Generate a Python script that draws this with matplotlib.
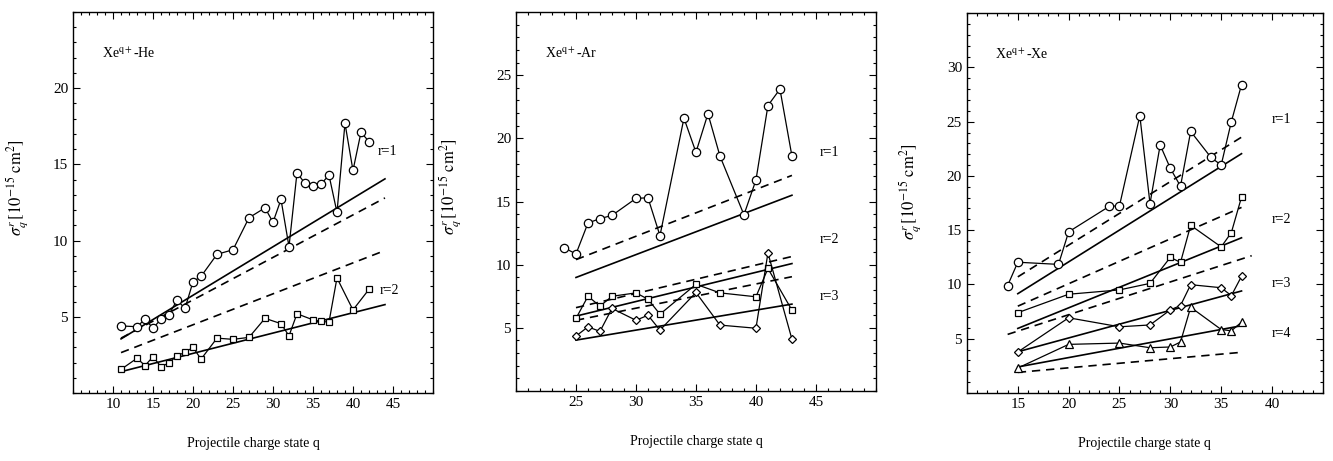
import matplotlib
matplotlib.use("Agg")
from matplotlib import pyplot as plt
from matplotlib.ticker import MultipleLocator

plt.rcParams['font.family'] = ['Liberation Serif', 'DejaVu Serif']
plt.rcParams['mathtext.fontset'] = 'stix'

# ---- Xe(q+) - He ----
he_q1 = [11, 13, 14, 15, 16, 17, 18, 19, 20, 21, 23, 25, 27, 29, 30, 31, 32, 33, 34, 35, 36, 37, 38, 39, 40, 41, 42]
he_r1 = [4.4, 4.35, 4.85, 4.25, 4.85, 5.15, 6.1, 5.55, 7.3, 7.65, 9.1, 9.4, 11.5, 12.15, 11.2, 12.7, 9.6,
         14.45, 13.75, 13.55, 13.7, 14.3, 11.85, 17.7, 14.6, 17.1, 16.5]
he_q2 = [11, 13, 14, 15, 16, 17, 18, 19, 20, 21, 23, 25, 27, 29, 31, 32, 33, 35, 36, 37, 38, 40, 42]
he_r2 = [1.55, 2.28, 1.8, 2.38, 1.72, 1.98, 2.45, 2.66, 3.0, 2.22, 3.6, 3.52, 3.65, 4.9, 4.55, 3.75,
         5.2, 4.8, 4.7, 4.65, 7.55, 5.45, 6.8]
he_fit_q = [11, 44]
he_r1_solid = [3.55, 14.05]
he_r1_dash = [3.6, 12.8]
he_r2_dash = [2.65, 9.35]
he_r2_solid = [1.4, 5.8]

# ---- Xe(q+) - Ar ----
ar_q1 = [24, 25, 26, 27, 28, 30, 31, 32, 34, 35, 36, 37, 39, 40, 41, 42, 43]
ar_r1 = [11.35, 10.85, 13.3, 13.65, 13.9, 15.25, 15.3, 12.3, 21.6, 18.9, 21.95, 18.6, 13.95, 16.7, 22.6, 23.9, 18.6]
ar_q23 = [25, 26, 27, 28, 30, 31, 32, 35, 37, 40, 41, 43]
ar_r2 = [5.75, 7.5, 6.72, 7.5, 7.77, 7.27, 6.08, 8.45, 7.77, 7.46, 9.7, 6.4]
ar_r3 = [4.35, 5.08, 4.72, 6.54, 5.6, 6.0, 4.82, 7.8, 5.22, 4.97, 10.93, 4.1]
ar_fit_q = [25, 43]
ar_r1_dash = [10.4, 17.07]
ar_r1_solid = [8.99, 15.5]
ar_r2_dash = [6.6, 10.65]
ar_r2_solid = [5.93, 10.09]
ar_r3_dash = [5.6, 9.05]
ar_r3_solid = [4.03, 6.88]

# ---- Xe(q+) - Xe ----
xe_q1 = [14, 15, 19, 20, 24, 25, 27, 28, 29, 30, 31, 32, 34, 35, 36, 37]
xe_r1 = [9.9, 12.05, 11.85, 14.85, 17.2, 17.25, 25.55, 17.45, 22.85, 20.7, 19.05, 24.1, 21.7, 21.0, 25.0, 28.4]
xe_q = [15, 20, 25, 28, 30, 31, 32, 35, 36, 37]
xe_r2 = [7.4, 9.1, 9.5, 10.1, 12.5, 12.03, 15.45, 13.46, 14.78, 18.05]
xe_r3 = [3.78, 6.93, 6.1, 6.27, 7.66, 8.06, 9.98, 9.7, 8.97, 10.75]
xe_r4 = [2.3, 4.48, 4.6, 4.17, 4.24, 4.7, 7.9, 5.85, 5.73, 6.53]
xe_fit_q = [15, 37]
xe_r1_solid = [9.15, 22.05]
xe_r1_dash_q = [15, 37.3]
xe_r1_dash = [10.7, 23.75]
xe_r2_dash = [8.0, 17.1]
xe_r2_solid = [5.95, 14.3]
xe_r3_dash_q = [14, 38]
xe_r3_dash = [5.4, 12.65]
xe_r3_solid = [3.8, 9.4]
xe_r4_solid = [2.4, 6.2]
xe_r4_dash = [1.9, 3.75]

DASH = (0, (5, 3.5))


def data_line(ax, q, v, marker, ms):
    ax.plot(q, v, color='black', lw=0.9, marker=marker, ms=ms, mfc='white', mec='black', mew=0.9, zorder=3)


def fit_line(ax, q, v, dashed=False):
    ax.plot(q, v, color='black', lw=1.2, ls=DASH if dashed else '-', zorder=2)


def style_axes(ax, xlim, ylim, xticks, yticks, title):
    ax.set_xlim(*xlim)
    ax.set_ylim(*ylim)
    ax.set_xticks(xticks)
    ax.set_yticks(yticks)
    ax.xaxis.set_minor_locator(MultipleLocator(1))
    ax.yaxis.set_minor_locator(MultipleLocator(1))
    ax.tick_params(which='both', direction='in', top=True, right=True, labelsize=11, width=0.8)
    ax.tick_params(which='major', length=5)
    ax.tick_params(which='minor', length=2.5)
    for s in ax.spines.values():
        s.set_linewidth(1.0)
    ax.set_xlabel('Projectile charge state q', fontsize=10)
    ax.xaxis.set_label_coords(0.5, -0.115)
    ax.set_ylabel(r'$\sigma_q^r\,[10^{-15}\ \mathrm{cm}^2]$', fontsize=12)
    ax.text(0.08, 0.89, title, transform=ax.transAxes, fontsize=10, va='center')


fig = plt.figure(figsize=(13.33, 4.61), dpi=100)

# Panel 1: He target
ax1 = fig.add_axes([0.0548, 0.1475, 0.27, 0.8265])
fit_line(ax1, he_fit_q, he_r1_solid)
fit_line(ax1, he_fit_q, he_r1_dash, dashed=True)
fit_line(ax1, he_fit_q, he_r2_dash, dashed=True)
fit_line(ax1, he_fit_q, he_r2_solid)
data_line(ax1, he_q1, he_r1, 'o', 6)
data_line(ax1, he_q2, he_r2, 's', 5)
ax1.text(43.1, 15.85, 'r=1', fontsize=10, va='center')
ax1.text(43.4, 6.7, 'r=2', fontsize=10, va='center')
style_axes(ax1, (5, 50), (0, 25), range(10, 46, 5), range(5, 21, 5), r'Xe$^{\mathrm{q+}}$-He')
ax1.yaxis.set_label_coords(-0.12, 0.54)

# Panel 2: Ar target
ax2 = fig.add_axes([0.3871, 0.1518, 0.27, 0.822])
fit_line(ax2, ar_fit_q, ar_r1_dash, dashed=True)
fit_line(ax2, ar_fit_q, ar_r1_solid)
fit_line(ax2, ar_fit_q, ar_r2_dash, dashed=True)
fit_line(ax2, ar_fit_q, ar_r2_solid)
fit_line(ax2, ar_fit_q, ar_r3_dash, dashed=True)
fit_line(ax2, ar_fit_q, ar_r3_solid)
data_line(ax2, ar_q1, ar_r1, 'o', 6)
data_line(ax2, ar_q23, ar_r2, 's', 5)
data_line(ax2, ar_q23, ar_r3, 'D', 4.5)
ax2.text(45.3, 18.9, 'r=1', fontsize=10, va='center')
ax2.text(45.3, 12.0, 'r=2', fontsize=10, va='center')
ax2.text(45.3, 7.45, 'r=3', fontsize=10, va='center')
style_axes(ax2, (20, 50), (0, 30), range(25, 46, 5), range(5, 26, 5), r'Xe$^{\mathrm{q+}}$-Ar')
ax2.yaxis.set_label_coords(-0.147, 0.54)

# Panel 3: Xe target
ax3 = fig.add_axes([0.7254, 0.1475, 0.267, 0.824])
fit_line(ax3, xe_fit_q, xe_r1_solid)
fit_line(ax3, xe_r1_dash_q, xe_r1_dash, dashed=True)
fit_line(ax3, xe_fit_q, xe_r2_dash, dashed=True)
fit_line(ax3, xe_fit_q, xe_r2_solid)
fit_line(ax3, xe_r3_dash_q, xe_r3_dash, dashed=True)
fit_line(ax3, xe_fit_q, xe_r3_solid)
fit_line(ax3, xe_fit_q, xe_r4_solid)
fit_line(ax3, xe_fit_q, xe_r4_dash, dashed=True)
data_line(ax3, xe_q1, xe_r1, 'o', 6)
data_line(ax3, xe_q, xe_r2, 's', 5)
data_line(ax3, xe_q, xe_r3, 'D', 4.5)
data_line(ax3, xe_q, xe_r4, '^', 5.5)
ax3.text(40.0, 25.2, 'r=1', fontsize=10, va='center')
ax3.text(40.0, 16.0, 'r=2', fontsize=10, va='center')
ax3.text(40.0, 10.1, 'r=3', fontsize=10, va='center')
ax3.text(40.0, 5.5, 'r=4', fontsize=10, va='center')
style_axes(ax3, (10, 45), (0, 35), range(15, 41, 5), range(5, 31, 5), r'Xe$^{\mathrm{q+}}$-Xe')
ax3.yaxis.set_label_coords(-0.124, 0.53)

fig.savefig('out.png', dpi=100)
